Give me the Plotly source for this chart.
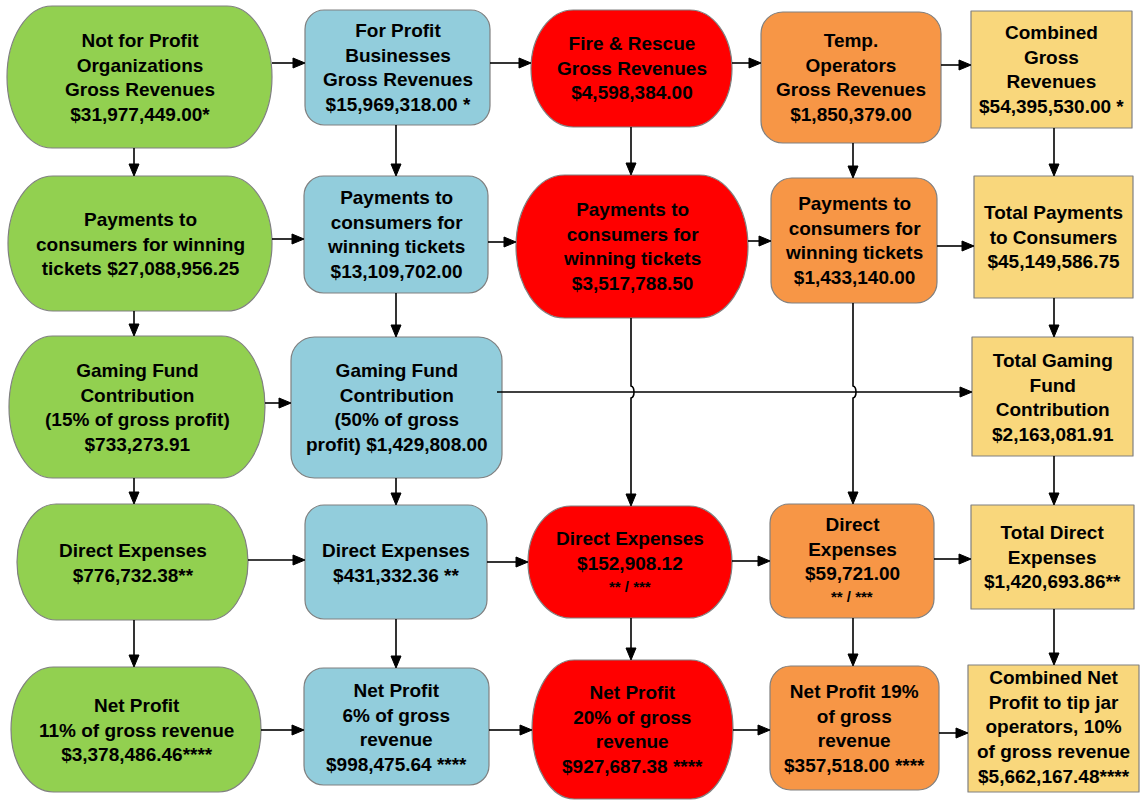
import plotly.graph_objects as go

# ---------------- data (text content of the flow chart) ----------------
groups = ["Not for Profit", "For Profit", "Fire & Rescue", "Temp. Operators", "Combined"]

gross_revenue_labels = [
    "Not for Profit<br>Organizations<br>Gross Revenues<br>$31,977,449.00*",
    "For Profit<br>Businesses<br>Gross Revenues<br>$15,969,318.00 *",
    "Fire & Rescue<br>Gross Revenues<br>$4,598,384.00",
    "Temp.<br>Operators<br>Gross Revenues<br>$1,850,379.00",
    "Combined<br>Gross<br>Revenues<br>$54,395,530.00 *",
]
payments_labels = [
    "Payments to<br>consumers for winning<br>tickets $27,088,956.25",
    "Payments to<br>consumers for<br>winning tickets<br>$13,109,702.00",
    "Payments to<br>consumers for<br>winning tickets<br>$3,517,788.50",
    "Payments to<br>consumers for<br>winning tickets<br>$1,433,140.00",
    "Total Payments<br>to Consumers<br>$45,149,586.75",
]
gaming_fund_labels = [
    "Gaming Fund<br>Contribution<br>(15% of gross profit)<br>$733,273.91",
    "Gaming Fund<br>Contribution<br>(50% of gross<br>profit) $1,429,808.00",
    None,
    None,
    "Total Gaming<br>Fund<br>Contribution<br>$2,163,081.91",
]
direct_expense_labels = [
    "Direct Expenses<br>$776,732.38**",
    "Direct Expenses<br>$431,332.36 **",
    "Direct Expenses<br>$152,908.12",
    "Direct<br>Expenses<br>$59,721.00",
    "Total Direct<br>Expenses<br>$1,420,693.86**",
]
direct_expense_notes = ["", "", "** / ***", "** / ***", ""]
net_profit_labels = [
    "Net Profit<br>11% of gross revenue<br>$3,378,486.46****",
    "Net Profit<br>6% of gross<br>revenue<br>$998,475.64 ****",
    "Net Profit<br>20% of gross<br>revenue<br>$927,687.38 ****",
    "Net Profit 19%<br>of gross<br>revenue<br>$357,518.00 ****",
    "Combined Net<br>Profit to tip jar<br>operators, 10%<br>of gross revenue<br>$5,662,167.48****",
]

rows = [gross_revenue_labels, payments_labels, gaming_fund_labels,
        direct_expense_labels, net_profit_labels]

# ---------------- layout / style (pixel geometry of the boxes) ----------------
col_colors = ["#92D050", "#92CDDC", "#FF0000", "#F79646", "#F9D77C"]
col_kind = ["term_g", "round", "term_r", "round", "rect"]
col_x = [134, 396, 631, 853, 1054]

# (x0, x1, y0, y1) for each [row][col]
boxes = [
    [(7, 272, 6, 148), (305, 490, 10, 125), (531, 732, 10, 127), (761, 941, 12, 143), (971, 1132, 11, 128)],
    [(8, 272, 176, 311), (304, 488, 176, 293), (516, 748, 175, 318), (771, 937, 178, 303), (974, 1133, 176, 298)],
    [(9, 265, 336, 478), (291, 502, 337, 478), None, None, (972, 1133, 337, 456)],
    [(17, 248, 504, 620), (305, 487, 505, 619), (528, 732, 506, 618), (770, 934, 504, 618), (971, 1134, 505, 609)],
    [(11, 261, 667, 792), (304, 489, 668, 785), (532, 733, 660, 799), (770, 939, 666, 790), (968, 1139, 665, 792)],
]
text_y = [
    [77, 67.5, 68, 77, 69],
    [243.5, 234.5, 246.5, 240, 237],
    [407.5, 407.5, None, None, 397],
    [562.5, 562.5, 550.5, 549, 557],
    [729.5, 727, 729.5, 728, 727],
]
note_y = [None, None, 586, 596, None]
row_arrow_y = [
    [63, 63, 63, 65],
    [239, 242, 241, 246],
    [403, None, None, None],
    [560, 562, 561, 559],
    [730, 730, 730, 733],
]

K = 0.5523


def rounded_path(x0, x1, y0, y1, rx, ry):
    kx, ky = K * rx, K * ry
    p = [
        f"M {x0+rx},{y0}", f"L {x1-rx},{y0}",
        f"C {x1-rx+kx},{y0} {x1},{y0+ry-ky} {x1},{y0+ry}",
        f"L {x1},{y1-ry}",
        f"C {x1},{y1-ry+ky} {x1-rx+kx},{y1} {x1-rx},{y1}",
        f"L {x0+rx},{y1}",
        f"C {x0+rx-kx},{y1} {x0},{y1-ry+ky} {x0},{y1-ry}",
        f"L {x0},{y0+ry}",
        f"C {x0},{y0+ry-ky} {x0+rx-kx},{y0} {x0+rx},{y0}", "Z",
    ]
    return " ".join(p)


shapes = []
annotations = []
FONT = dict(family="Liberation Sans, Arial, sans-serif", size=19, color="black")

for r, row in enumerate(rows):
    for c, label in enumerate(row):
        b = boxes[r][c]
        if label is None or b is None:
            continue
        x0, x1, y0, y1 = b
        w, h = x1 - x0, y1 - y0
        kind = col_kind[c]
        if kind == "term_g":
            path = rounded_path(x0, x1, y0, y1, 0.17 * w, h / 2)
        elif kind == "term_r":
            path = rounded_path(x0, x1, y0, y1, 0.21 * w, h / 2)
        elif kind == "round":
            rr = min(w, h) / 6
            path = rounded_path(x0, x1, y0, y1, rr, rr)
        else:
            path = rounded_path(x0, x1, y0, y1, 0.01, 0.01)
        shapes.append(dict(type="path", path=path, xref="x", yref="y",
                           fillcolor=col_colors[c],
                           line=dict(color="#808080", width=1.2), layer="below"))
        annotations.append(dict(x=(x0 + x1) / 2, y=text_y[r][c], xref="x", yref="y",
                                text="<b>" + label + "</b>", showarrow=False,
                                font=FONT, align="center",
                                xanchor="center", yanchor="middle"))
        if r == 3 and direct_expense_notes[c]:
            annotations.append(dict(x=(x0 + x1) / 2, y=note_y[c], xref="x", yref="y",
                                    text="<b>" + direct_expense_notes[c] + "</b>",
                                    showarrow=False,
                                    font=dict(family=FONT["family"], size=15, color="black"),
                                    xanchor="center", yanchor="middle"))

LINE = dict(color="black", width=1.6)
AL, AW = 12, 5


def arrow_right(xs, xe, y):
    shapes.append(dict(type="line", x0=xs, x1=xe - AL + 1, y0=y, y1=y, xref="x", yref="y", line=LINE))
    shapes.append(dict(type="path", path=f"M {xe},{y} L {xe-AL},{y-AW} L {xe-AL},{y+AW} Z",
                       xref="x", yref="y", fillcolor="black", line=dict(color="black", width=1)))


def arrow_down(x, ys, ye):
    shapes.append(dict(type="line", x0=x, x1=x, y0=ys, y1=ye - AL + 1, xref="x", yref="y", line=LINE))
    shapes.append(dict(type="path", path=f"M {x},{ye} L {x-AW},{ye-AL} L {x+AW},{ye-AL} Z",
                       xref="x", yref="y", fillcolor="black", line=dict(color="black", width=1)))


# horizontal arrows
for r in range(5):
    present = [c for c in range(5) if boxes[r][c] is not None and rows[r][c] is not None]
    for i in range(len(present) - 1):
        a, bcol = present[i], present[i + 1]
        if r == 2 and a == 1:
            continue
        arrow_right(boxes[r][a][1], boxes[r][bcol][0], row_arrow_y[r][i])

# long gaming-fund line with jump-overs (blue -> yellow)
gy = 392
arrow_right(497, boxes[2][4][0], gy)

# vertical arrows
for c in range(5):
    present = [r for r in range(5) if boxes[r][c] is not None and rows[r][c] is not None]
    for i in range(len(present) - 1):
        ra, rb = present[i], present[i + 1]
        ys, ye = boxes[ra][c][3], boxes[rb][c][2]
        x = col_x[c]
        if rb - ra > 1:
            shapes.append(dict(type="path", xref="x", yref="y", line=LINE,
                               path=f"M {x},{ys} L {x},{gy-6} C {x+4},{gy-5} {x+4},{gy+5} {x},{gy+6} L {x},{ye-AL+1}"))
            shapes.append(dict(type="path", path=f"M {x},{ye} L {x-AW},{ye-AL} L {x+AW},{ye-AL} Z",
                               xref="x", yref="y", fillcolor="black", line=dict(color="black", width=1)))
        else:
            arrow_down(x, ys, ye)

fig = go.Figure()
fig.update_layout(
    width=1140, height=800,
    margin=dict(l=0, r=0, t=0, b=0),
    paper_bgcolor="white", plot_bgcolor="white",
    xaxis=dict(range=[0, 1140], visible=False, fixedrange=True),
    yaxis=dict(range=[800, 0], visible=False, fixedrange=True),
    shapes=shapes, annotations=annotations, showlegend=False,
)
fig.write_html(
    "out.html",
    config={"displayModeBar": False},
    post_script="document.body.style.margin='0px';document.body.style.overflow='hidden';",
)
